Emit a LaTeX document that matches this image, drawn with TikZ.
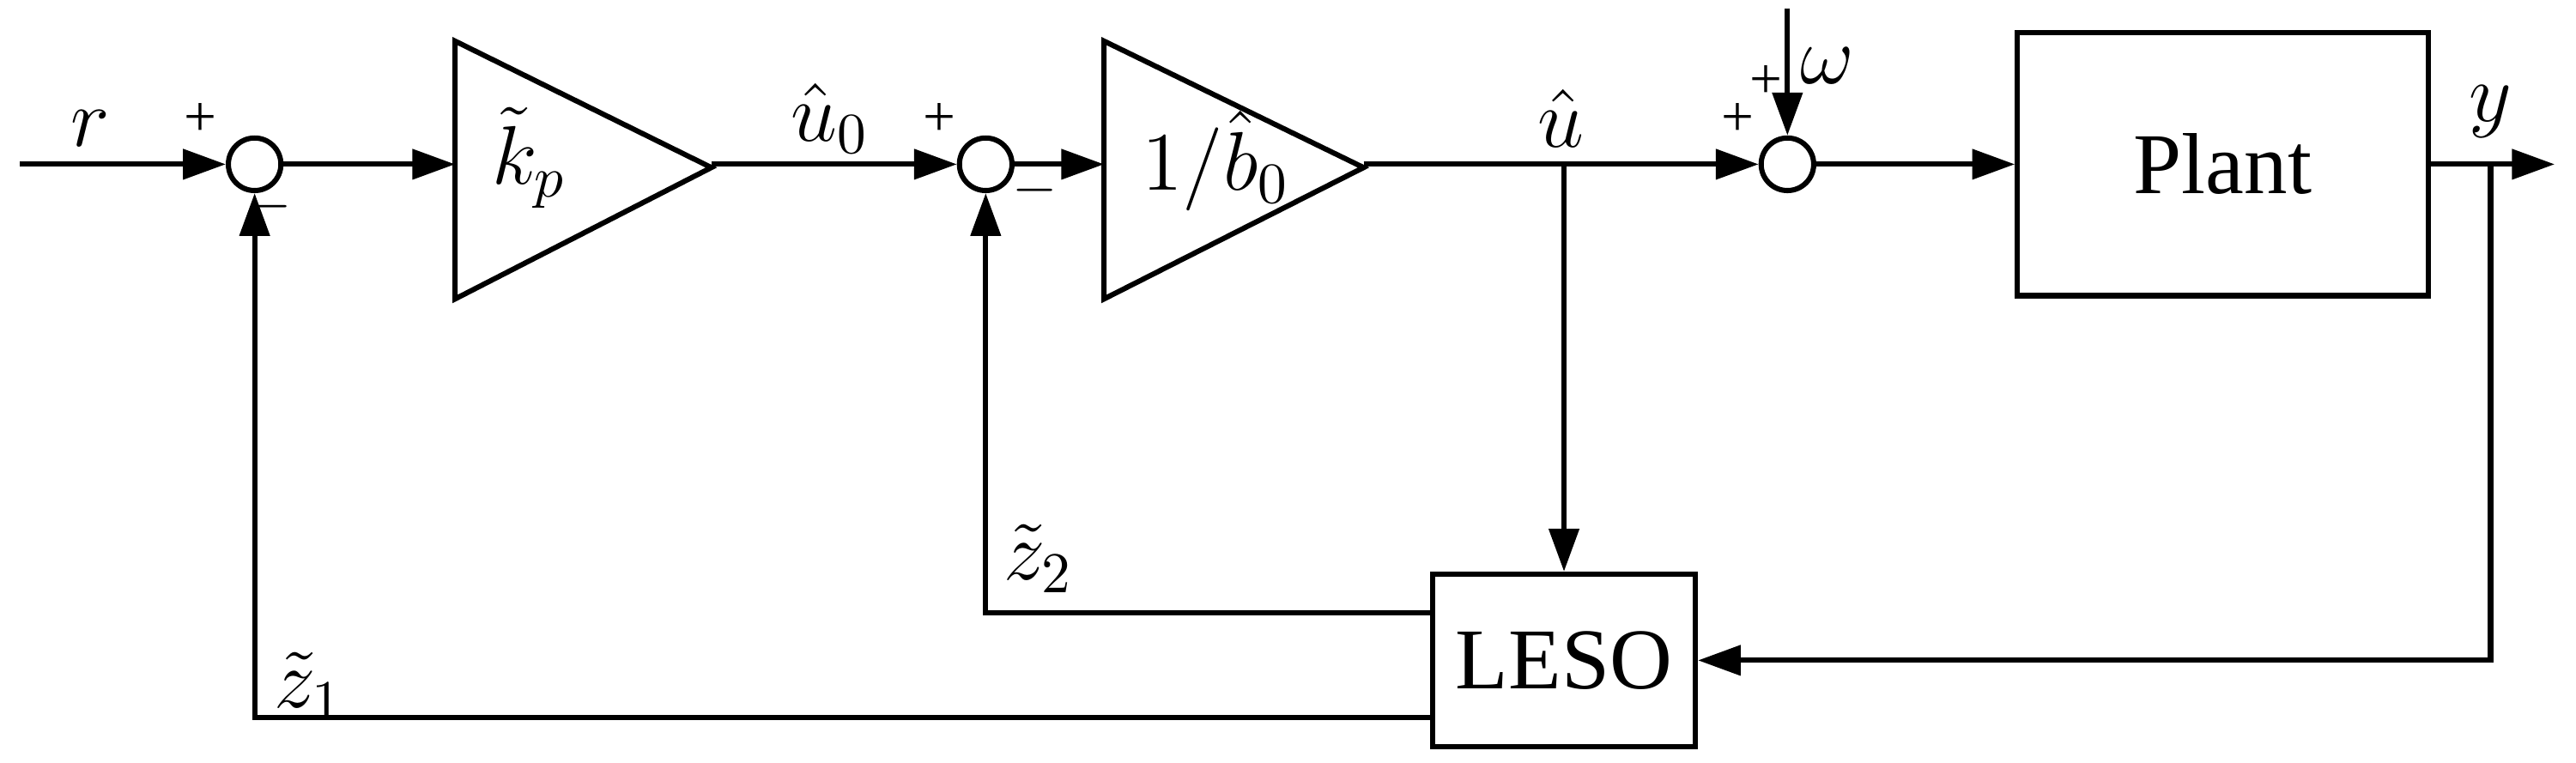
\documentclass[tikz,border=0pt]{standalone}
\usepackage{fontspec}
\setmainfont{Liberation Serif}
\usetikzlibrary{arrows.meta}
\begin{document}
\begin{tikzpicture}[x=0.1mm,y=-0.1mm,line width=0.9pt,
  sum/.style={circle,draw,minimum size=3.2mm,inner sep=0pt},
  box/.style={draw,inner sep=0pt},
  arr/.style={-{Triangle[length=2.6mm,width=1.8mm]}},
  lbl/.style={font=\fontsize{14}{16}\selectfont,inner sep=1pt},
  sg/.style={font=\fontsize{10}{12}\selectfont}]
\useasboundingbox (0,0) rectangle (1568,464);
\node[sum] (s1) at (155,100) {};
\node[sum] (s2) at (600,100) {};
\node[sum] (s3) at (1088,100) {};
\draw (277,25) -- (433,102) -- (277,182) -- cycle;
\draw (672,25) -- (830,102) -- (672,182) -- cycle;
\coordinate (t1i) at (277,100); \coordinate (t1o) at (433,100);
\coordinate (t2i) at (672,100); \coordinate (t2o) at (830,100);
\node[lbl] (kp) at (322,96) {$\tilde{k}_p$};
\node[lbl] (gb) at (740,98) {$1/\hat{b}_0$};
\node[box,minimum width=25mm,minimum height=16mm,font=\fontsize{15}{18}\selectfont] (plant) at (1353,100) {Plant};
\node[box,minimum width=16mm,minimum height=10.5mm,font=\fontsize{15}{18}\selectfont] (leso) at (952,402) {LESO};
\coordinate (rin) at (12,100);
\coordinate (out) at (1555,100);
\coordinate (w) at (1088,5);
\coordinate (bu) at (952,100);
\coordinate (by) at (1516,100);
\draw[arr] (rin) -- (s1);
\draw[arr] (s1) -- (t1i);
\draw[arr] (t1o) -- (s2);
\draw[arr] (s2) -- (t2i);
\draw[arr] (t2o) -- (s3);
\draw[arr] (s3) -- (plant);
\draw[arr] (plant) -- (out);
\draw[arr] (w) -- (s3);
\draw[arr] (bu) -- (leso.north);
\draw[arr] (by) |- (leso.east);
\draw[arr] ([yshift=2.9mm]leso.west) -| (s2.south);
\draw[arr] ([yshift=-3.5mm]leso.west) -| (s1.south);
\node[lbl] (lr) at (55,78) {$r$};
\node[lbl] (lu0) at (505,72) {$\hat{u}_0$};
\node[lbl] (lu) at (950,72) {$\hat{u}$};
\node[lbl] (lw) at (1112,40) {$\omega$};
\node[lbl] (ly) at (1516,68) {$y$};
\node[lbl] (lz2) at (632,340) {$\tilde{z}_2$};
\node[lbl] (lz1) at (188,418) {$\tilde{z}_1$};
\node[sg] (p1) at (122,73) {+};
\node[sg] (m1) at (164,126) {$-$};
\node[sg] (p2) at (572,73) {+};
\node[sg] (m2) at (630,116) {$-$};
\node[sg] (p3) at (1058,73) {+};
\node[sg] (p4) at (1075,50) {+};
\end{tikzpicture}
\end{document}
